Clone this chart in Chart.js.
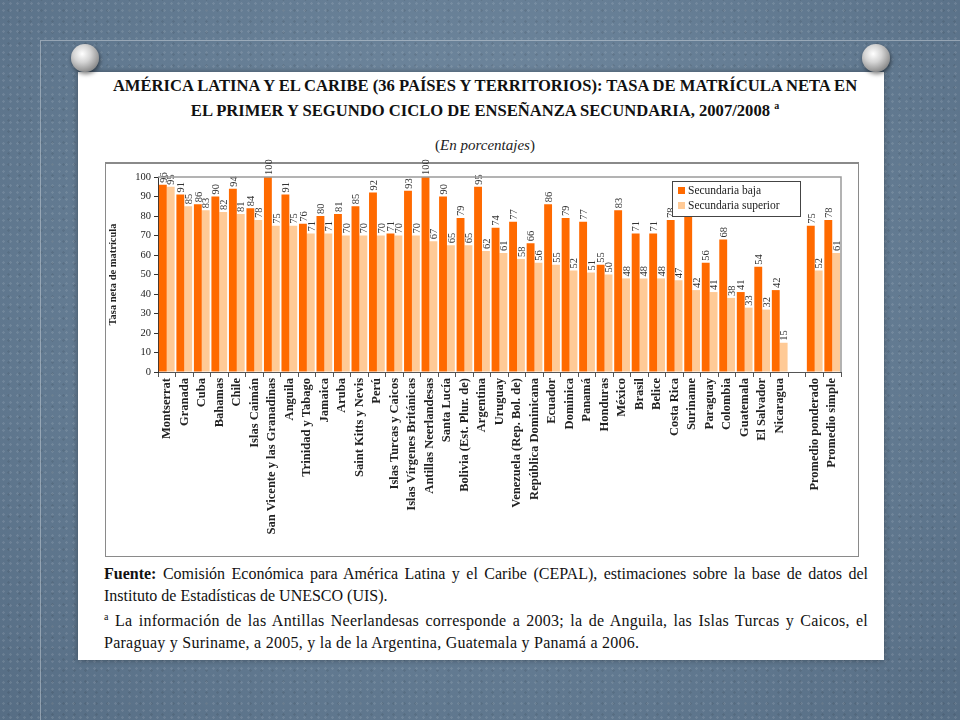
<!DOCTYPE html>
<html>
<head>
<meta charset="utf-8">
<script src="https://cdn.jsdelivr.net/npm/chart.js@4/dist/chart.umd.min.js"></script>
<style>
  body { margin:0; width:960px; height:720px; overflow:hidden; position:relative;
    background: radial-gradient(ellipse at 50% 40%, #7890a6 0%, #637b92 60%, #566d84 100%);
    font-family: "Liberation Serif", "DejaVu Serif", serif; }
  .speckle { position:absolute; inset:0;
    background-image: radial-gradient(rgba(255,255,255,0.10) 1px, transparent 1.5px),
                      radial-gradient(rgba(0,0,0,0.08) 1px, transparent 1.5px);
    background-size: 7px 7px, 11px 11px; background-position: 0 0, 3px 5px; }
  .frameline { position:absolute; left:40px; top:40px; right:0; bottom:0;
    border-left:1px solid rgba(255,255,255,0.35); border-top:1px solid rgba(255,255,255,0.35); }
  .card { position:absolute; left:78px; top:72px; width:806px; height:588px; background:#fff;
    box-shadow: 0 0 6px rgba(0,0,0,0.35); }
  .pin { position:absolute; width:28px; height:28px; border-radius:50%;
    background: radial-gradient(circle at 40% 35%, #ffffff 0%, #d4d4d4 35%, #8a8a8a 75%, #555 100%);
    box-shadow: 1px 2px 4px rgba(0,0,0,0.5); }
  .title { position:absolute; left:90px; top:76px; width:790px; text-align:center;
    font-weight:bold; font-size:16.6px; line-height:20px; color:#111; white-space:nowrap; }
  .sub { position:absolute; left:100px; top:137px; width:770px; text-align:center; font-size:15px; color:#222; }
  .box { position:absolute; left:105px; top:162px; width:752px; height:392px; border:1px solid #8a8a8a;
    border-top:2px solid #8a8a8a; }
  .chartwrap { position:absolute; left:105px; top:150px; width:755px; height:405px; }
  .note { position:absolute; left:104px; top:563px; width:764px; font-size:16px; line-height:21.5px;
    color:#111; text-align:justify; }
  .note p { margin:0; }
  .note p.b { letter-spacing:0.25px; }
  .note sup { font-size:10px; }
</style>
</head>
<body>
<div class="speckle"></div>
<div class="frameline"></div>
<div class="card"></div>
<div class="pin" style="left:71px;top:44px;"></div>
<div class="pin" style="left:862px;top:44px;"></div>
<div class="title">
  AMÉRICA LATINA Y EL CARIBE (36 PAÍSES Y TERRITORIOS): TASA DE MATRÍCULA NETA EN<br>
  EL PRIMER Y SEGUNDO CICLO DE ENSEÑANZA SECUNDARIA, 2007/2008 <sup style="font-size:10px">a</sup>
</div>
<div class="sub">(<i>En porcentajes</i>)</div>
<div class="box"></div>
<div class="chartwrap"><canvas id="myChart"></canvas></div>
<div class="note">
  <p><b>Fuente:</b> Comisión Económica para América Latina y el Caribe (CEPAL), estimaciones sobre la base de datos del Instituto de Estadísticas de UNESCO (UIS).</p>
  <p class="b"><sup>a</sup> La información de las Antillas Neerlandesas corresponde a 2003; la de Anguila, las Islas Turcas y Caicos, el Paraguay y Suriname, a 2005, y la de la Argentina, Guatemala y Panamá a 2006.</p>
</div>
<script>
const categories = ["Montserrat", "Granada", "Cuba", "Bahamas", "Chile", "Islas Caimán",
  "San Vicente y las Granadinas", "Anguila", "Trinidad y Tabago", "Jamaica", "Aruba",
  "Saint Kitts y Nevis", "Perú", "Islas Turcas y Caicos", "Islas Vírgenes Británicas",
  "Antillas Neerlandesas", "Santa Lucía", "Bolivia (Est. Plur. de)", "Argentina", "Uruguay",
  "Venezuela (Rep. Bol. de)", "República Dominicana", "Ecuador", "Dominica", "Panamá",
  "Honduras", "México", "Brasil", "Belice", "Costa Rica", "Suriname", "Paraguay", "Colombia",
  "Guatemala", "El Salvador", "Nicaragua", "", "Promedio ponderado", "Promedio simple"];
const secundariaBaja = [96, 91, 86, 90, 94, 84, 100, 91, 76, 80, 81, 85, 92, 71, 93, 100, 90, 79,
  95, 74, 77, 66, 86, 79, 77, 55, 83, 71, 71, 78, 80, 56, 68, 41, 54, 42, null, 75, 78];
const secundariaSuperior = [95, 85, 83, 82, 81, 78, 75, 75, 71, 71, 70, 70, 70, 70, 70, 67, 65, 65,
  62, 61, 58, 56, 55, 52, 51, 50, 48, 48, 48, 47, 42, 41, 38, 33, 32, 15, null, 52, 61];
const hiddenLabels = [30]; // Suriname, label under legend
const yTicks = [0, 10, 20, 30, 40, 50, 60, 70, 80, 90, 100];

const serif = "'Liberation Serif', 'DejaVu Serif', serif";

const valueLabels = {
  id: 'valueLabels',
  afterDatasetsDraw(chart) {
    const ctx = chart.ctx;
    ctx.save();
    ctx.font = "10.5px " + serif;
    ctx.fillStyle = '#333';
    chart.data.datasets.forEach((ds, i) => {
      chart.getDatasetMeta(i).data.forEach((bar, j) => {
        const v = ds.data[j];
        if (v == null || (i === 0 && hiddenLabels.includes(j))) return;
        ctx.save();
        ctx.translate(bar.x + 1, bar.y - 2);
        ctx.rotate(-Math.PI / 2);
        ctx.textAlign = 'left';
        ctx.textBaseline = 'middle';
        ctx.fillText(v, 0, 0);
        ctx.restore();
      });
    });
    ctx.restore();
  }
};

const plotFrame = {
  id: 'plotFrame',
  afterDraw(chart) {
    const a = chart.chartArea, ctx = chart.ctx;
    ctx.save();
    ctx.strokeStyle = '#9a9a9a';
    ctx.lineWidth = 1.5;
    ctx.beginPath();
    ctx.moveTo(a.left, a.top); ctx.lineTo(a.right, a.top); ctx.lineTo(a.right, a.bottom);
    ctx.stroke();
    // legend box
    const x = 567, y = 31, w = 128, h = 35;
    ctx.fillStyle = '#fff';
    ctx.fillRect(x, y, w, h);
    ctx.strokeStyle = '#444';
    ctx.lineWidth = 1;
    ctx.strokeRect(x + 0.5, y + 0.5, w, h);
    ctx.font = "11.5px " + serif;
    ctx.textBaseline = 'middle';
    chart.data.datasets.forEach((ds, i) => {
      const yy = y + 10 + i * 15;
      ctx.fillStyle = ds.backgroundColor;
      ctx.fillRect(x + 6, yy - 4, 7, 7);
      ctx.fillStyle = '#222';
      ctx.fillText(ds.label, x + 16, yy);
    });
    ctx.restore();
  }
};

new Chart(document.getElementById('myChart'), {
  type: 'bar',
  data: {
    labels: categories,
    datasets: [
      { label: 'Secundaria baja', data: secundariaBaja, backgroundColor: '#ff6a00' },
      { label: 'Secundaria superior', data: secundariaSuperior, backgroundColor: '#ffca96' }
    ]
  },
  options: {
    responsive: true,
    maintainAspectRatio: false,
    animation: false,
    events: [],
    layout: { padding: { top: 27, right: 19, left: 0, bottom: 0 } },
    datasets: { bar: { categoryPercentage: 0.9, barPercentage: 1.0 } },
    plugins: { legend: { display: false }, tooltip: { enabled: false } },
    scales: {
      x: {
        afterFit(scale) { scale.height = 183; },
        grid: { offset: true, drawOnChartArea: false, tickLength: 5, color: '#555' },
        border: { color: '#555' },
        ticks: { autoSkip: false, minRotation: 90, maxRotation: 90, padding: 1,
          color: '#222', font: { family: serif, size: 12.5, weight: 'bold' } }
      },
      y: {
        min: 0, max: 100,
        afterFit(scale) { scale.width = 53; },
        afterBuildTicks(scale) { scale.ticks = yTicks.map(v => ({ value: v })); },
        grid: { drawOnChartArea: false, tickLength: 4, color: '#333' },
        border: { color: '#333' },
        ticks: { padding: 3, color: '#222', font: { family: serif, size: 10.5 } },
        title: { display: true, text: 'Tasa neta de matrícula', color: '#222', padding: 2,
          font: { family: serif, size: 10.5, weight: 'bold' } }
      }
    }
  },
  plugins: [valueLabels, plotFrame]
});
</script>
</body>
</html>
